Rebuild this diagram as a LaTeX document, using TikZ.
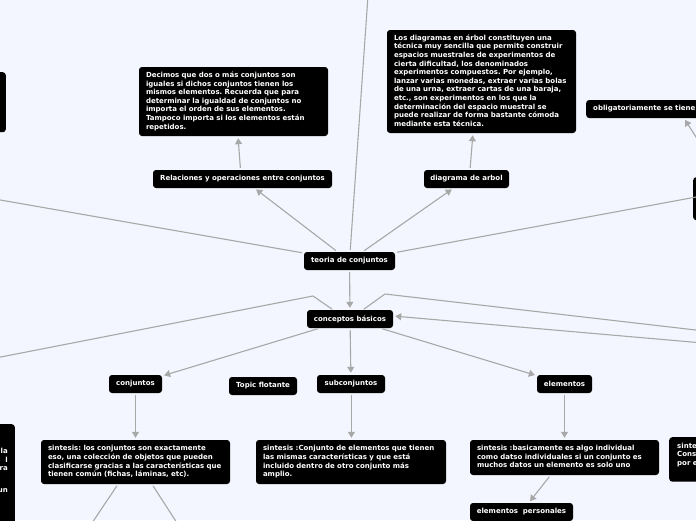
\documentclass[tikz,border=0pt]{standalone}
\usepackage{fontspec}
\usetikzlibrary{arrows.meta}
\newfontfamily\dvs{DejaVu Sans}
\definecolor{bgc}{HTML}{F3F6FE}
\definecolor{edgec}{HTML}{A8A8A8}
\frenchspacing
\newcommand{\lns}[1]{\begin{tabular}{@{}l@{}}#1\end{tabular}}
\tikzset{
  box/.style={fill=black, rounded corners=3pt, text=white,
    font=\dvs\bfseries\fontsize{7}{8.6}\selectfont\frenchspacing,
    inner xsep=6pt, inner ysep=4pt, align=left, minimum height=18pt},
  mbox/.style={box, inner xsep=7pt, text width=#1},
  edge/.style={draw=edgec, line width=1.1pt, shorten <=2pt, shorten >=2pt},
  arr/.style={edge, -{Triangle[length=6pt,width=7pt]}}
}
\begin{document}
\begin{tikzpicture}[x=1pt,y=-1pt]
\fill[bgc] (0,0) rectangle (696,520);
\useasboundingbox (0,0) rectangle (696,520);
\clip (0,0) rectangle (696,520);

% free ends
\coordinate (topend) at (368.4,-10);
\coordinate (leftend) at (-30,194.7);
\coordinate (rightend) at (726,191.5);
\coordinate (cl1) at (313,296);
\coordinate (cl2) at (-30,363);
\coordinate (cr1) at (385,294);
\coordinate (cr2) at (726,333.5);
\coordinate (cr3) at (726,345);
\coordinate (obend) at (710,159);
\coordinate (sb1) at (80.6,540);
\coordinate (sb2) at (188,540);

% nodes
\node[box, minimum width=91pt] (teoria) at (349.5,261) {teoria de conjuntos};
\node[box, minimum width=86pt] (conceptos) at (350,319) {conceptos básicos};
\node[box, minimum width=179pt] (relaciones) at (242.5,179) {Relaciones y operaciones entre conjuntos};
\node[box, minimum width=85pt] (diagrama) at (466.5,179) {diagrama de arbol};
\node[mbox=175pt, minimum height=69pt] (desc1) at (233.5,101.5) {\lns{Decimos que dos o más conjuntos son\\iguales si dichos conjuntos tienen los\\mismos elementos. Recuerda que para\\determinar la igualdad de conjuntos no\\importa el orden de sus elementos.\\Tampoco importa si los elementos están\\repetidos.}};
\node[mbox=175pt, minimum height=103pt] (desc2) at (481.5,81.5) {\lns{Los diagramas en árbol constituyen una\\técnica muy sencilla que permite construir\\espacios muestrales de experimentos de\\cierta dificultad, los denominados\\experimentos compuestos. Por ejemplo,\\lanzar varias monedas, extraer varias bolas\\de una urna, extraer cartas de una baraja,\\etc., son experimentos en los que la\\determinación del espacio muestral se\\puede realizar de forma bastante cómoda\\mediante esta técnica.}};
\node[box, anchor=west, minimum width=116pt, inner xsep=7pt] (obl) at (586,109) {obligatoriamente se tiene\hspace{6pt}};
\node[box, minimum width=53pt] (conj) at (135.5,384) {conjuntos};
\node[box, minimum width=68pt] (topic) at (263,386) {Topic flotante};
\node[box, minimum width=68pt] (subc) at (351,384) {subconjuntos};
\node[box, minimum width=55pt] (elem) at (564.5,384) {elementos};
\node[mbox=175pt, minimum height=44pt] (sintc) at (135.5,462) {\lns{sintesis: los conjuntos son exactamente\\eso, una colección de objetos que pueden\\clasificarse gracias a las características que\\tienen común (fichas, láminas, etc).}};
\node[mbox=176pt, minimum height=44pt] (sints) at (351,462) {\lns{sintesis :Conjunto de elementos que tienen\\las mismas características y que está\\incluido dentro de otro conjunto más\\amplio.}};
\node[mbox=175pt, minimum height=35pt] (sinte) at (564.5,457.5) {\lns{sintesis :basicamente es algo individual\\como datso individuales si un conjunto es\\muchos datos un elemento es solo uno}};
\node[box, anchor=north west, inner xsep=8pt, inner ysep=5pt] (rpart) at (669,437) {\lns{sinte\hspace{30pt}\\Const\\por e\\\mbox{}}};
\node[box, minimum width=103pt] (pers) at (521.5,512) {elementos\ \ personales};
\node[box, anchor=north east, minimum width=40pt, minimum height=110pt] (lbpart) at (15,424) {};
\node[font=\dvs\bfseries\fontsize{7}{8.6}\selectfont, text=white, align=right, anchor=north east, inner sep=0pt] (lbtext) at (8,448) {la\\l\\ra\\[13.4pt]un};
\node[box, anchor=north east, minimum width=40pt, minimum height=60pt] (ltpart) at (6,72) {};
\node[box, anchor=north west, minimum width=40pt, minimum height=43pt] (rmpart) at (693,177) {};

% connectors
\draw[edge] (teoria) -- (topend);
\draw[edge] (teoria) -- (leftend);
\draw[edge] (teoria) -- (rightend);
\draw[arr] (teoria) -- (relaciones);
\draw[arr] (teoria) -- (diagrama);
\draw[arr] (teoria) -- (conceptos);
\draw[arr] ([xshift=-2pt]relaciones.north) -- ([xshift=4.5pt]desc1.south);
\draw[arr] ([xshift=3.5pt]diagrama.north) -- ([xshift=-8.5pt]desc2.south);
\draw[edge, shorten <=1pt, shorten >=0pt] ([xshift=-17pt]conceptos.north) -- (cl1) -- (cl2);
\draw[edge, shorten <=1pt, shorten >=0pt] ([xshift=13pt]conceptos.north) -- (cr1) -- (cr2);
\draw[arr] (cr3) -- ([yshift=3pt]conceptos.east);
\draw[arr] (conceptos) -- (conj);
\draw[arr] (conceptos) -- (subc);
\draw[arr] (conceptos) -- (elem);
\draw[arr] (conj) -- (sintc);
\draw[arr] ([xshift=0.4pt]subc.south) -- ([xshift=0.4pt]sints.north);
\draw[arr] (elem) -- (sinte);
\draw[arr] (sinte) -- (pers);
\draw[arr] (obend) -- ([xshift=98pt]obl.south west);
\draw[edge] ([xshift=-17.5pt]sintc.south) -- (sb1);
\draw[edge] ([xshift=16.5pt]sintc.south) -- (sb2);
\end{tikzpicture}
\end{document}
